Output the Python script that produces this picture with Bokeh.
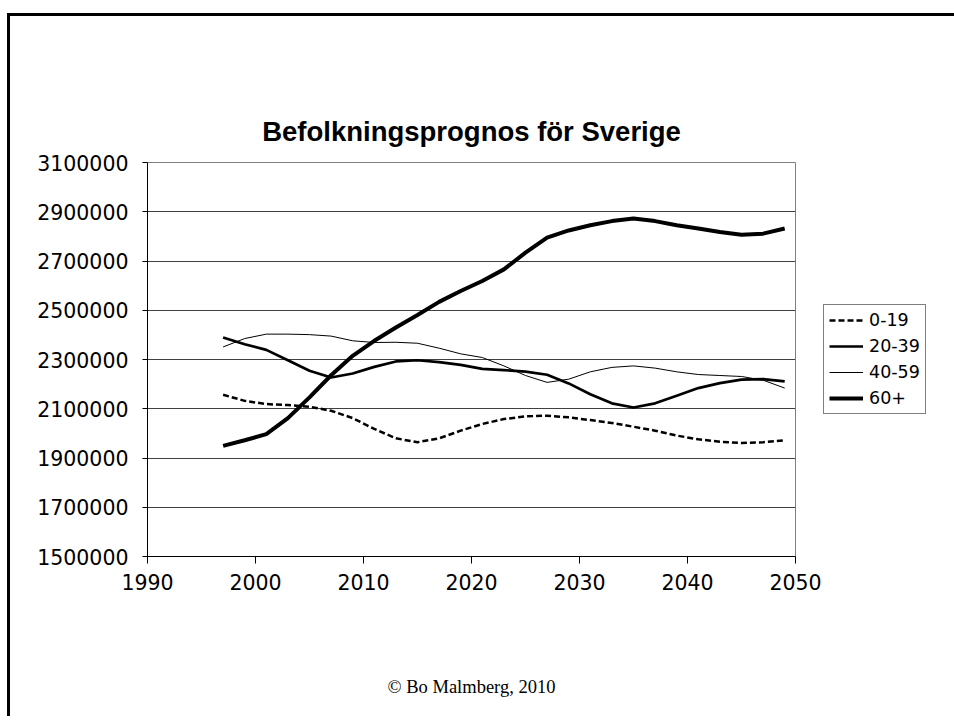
from bokeh.plotting import figure
from bokeh.models import ColumnDataSource, FixedTicker, Legend, LegendItem
from bokeh.embed import file_html
from bokeh.resources import INLINE

# ---- data ----
years = [1997, 1999, 2001, 2003, 2005, 2007, 2009, 2011, 2013, 2015, 2017, 2019, 2021,
         2023, 2025, 2027, 2029, 2031, 2033, 2035, 2037, 2039, 2041, 2043, 2045, 2047, 2049]

age_0_19 = [2157000, 2132000, 2119000, 2115000, 2108000, 2092000, 2062000, 2018000, 1980000,
            1964000, 1980000, 2011000, 2038000, 2058000, 2069000, 2072000, 2065000, 2054000,
            2042000, 2027000, 2011000, 1991000, 1976000, 1966000, 1961000, 1964000, 1972000]

age_20_39 = [2389000, 2362000, 2339000, 2297000, 2254000, 2227000, 2243000, 2270000, 2292000,
             2297000, 2289000, 2278000, 2262000, 2257000, 2251000, 2238000, 2203000, 2159000,
             2122000, 2105000, 2122000, 2153000, 2184000, 2204000, 2218000, 2220000, 2211000]

age_40_59 = [2351000, 2385000, 2403000, 2403000, 2401000, 2395000, 2376000, 2369000, 2370000,
             2366000, 2346000, 2323000, 2308000, 2274000, 2235000, 2207000, 2220000, 2250000,
             2268000, 2274000, 2265000, 2250000, 2239000, 2235000, 2231000, 2216000, 2184000]

age_60_plus = [1949000, 1972000, 1997000, 2062000, 2146000, 2236000, 2315000, 2376000, 2430000,
               2481000, 2534000, 2578000, 2619000, 2666000, 2734000, 2795000, 2824000, 2845000,
               2862000, 2873000, 2862000, 2845000, 2832000, 2818000, 2807000, 2811000, 2832000]

series_names = ["0-19", "20-39", "40-59", "60+"]

x_ticks = [1990, 2000, 2010, 2020, 2030, 2040, 2050]
y_ticks = [1500000, 1700000, 1900000, 2100000, 2300000, 2500000, 2700000, 2900000, 3100000]
y_tick_labels = ["1500000", "1700000", "1900000", "2100000", "2300000",
                 "2500000", "2700000", "2900000", "3100000"]

title_text = "Befolkningsprognos för Sverige"
footer_text = "© Bo Malmberg, 2010"

# ---- figure ----
src = ColumnDataSource(dict(year=years, a=age_0_19, b=age_20_39, c=age_40_59, d=age_60_plus))

p = figure(frame_width=648, frame_height=394,
           x_range=(x_ticks[0], x_ticks[-1]), y_range=(y_ticks[0], y_ticks[-1]),
           output_backend="svg", toolbar_location=None,
           min_border_left=137, min_border_right=152,
           min_border_top=146, min_border_bottom=160,
           margin=(13, 0, 0, 7),
           styles={"border-left": "3px solid #000", "border-top": "3px solid #000"})

p.background_fill_color = "white"
p.border_fill_color = "white"
p.outline_line_color = "#808080"
p.outline_line_width = 1

p.xgrid.visible = False
p.ygrid.grid_line_color = "#404040"
p.ygrid.grid_line_width = 1

p.xaxis.ticker = FixedTicker(ticks=x_ticks, minor_ticks=[])
p.yaxis.ticker = FixedTicker(ticks=y_ticks, minor_ticks=[])
p.yaxis.major_label_overrides = {v: s for v, s in zip(y_ticks, y_tick_labels)}

for ax in (p.xaxis[0], p.yaxis[0]):
    ax.axis_line_color = "black"
    ax.axis_line_width = 1
    ax.major_tick_line_color = "black"
    ax.major_tick_in = 0
    ax.minor_tick_line_color = None
    ax.major_label_text_font = "DejaVu Sans"
    ax.major_label_text_font_size = "20.5px"
    ax.major_label_text_color = "black"

p.xaxis.major_tick_out = 7
p.xaxis.major_label_standoff = 10
p.yaxis.major_tick_out = 5
p.yaxis.major_label_standoff = 14

# footer text carried as the x axis label, far below the tick labels
p.xaxis.axis_label = footer_text
p.xaxis.axis_label_standoff = 84
p.xaxis.axis_label_text_font = "Liberation Serif"
p.xaxis.axis_label_text_font_style = "normal"
p.xaxis.axis_label_text_font_size = "18.5px"
p.xaxis.axis_label_text_color = "black"

r0 = p.line("year", "a", source=src, line_color="black", line_width=2.5, line_dash="6 3")
r1 = p.line("year", "b", source=src, line_color="black", line_width=2.7)
r2 = p.line("year", "c", source=src, line_color="black", line_width=1)
r3 = p.line("year", "d", source=src, line_color="black", line_width=4)

legend = Legend(items=[LegendItem(label=n, renderers=[r]) for n, r in zip(series_names, [r0, r1, r2, r3])],
                location="left")
legend.border_line_color = "black"
legend.border_line_width = 1
legend.background_fill_color = "white"
legend.background_fill_alpha = 1
legend.padding = 5
legend.spacing = 6
legend.margin = 28
legend.glyph_width = 34
legend.glyph_height = 20
legend.label_height = 20
legend.label_standoff = 6
legend.label_text_font = "DejaVu Sans"
legend.label_text_font_size = "17.5px"
legend.label_text_color = "black"
p.add_layout(legend, "right")

p.title.text = title_text
p.title.align = "center"
p.title.text_font = "Liberation Sans"
p.title.text_font_style = "bold"
p.title.text_font_size = "27.5px"
p.title.text_color = "black"
p.title.standoff = 32

open("out.html", "w").write(file_html(p, INLINE))
